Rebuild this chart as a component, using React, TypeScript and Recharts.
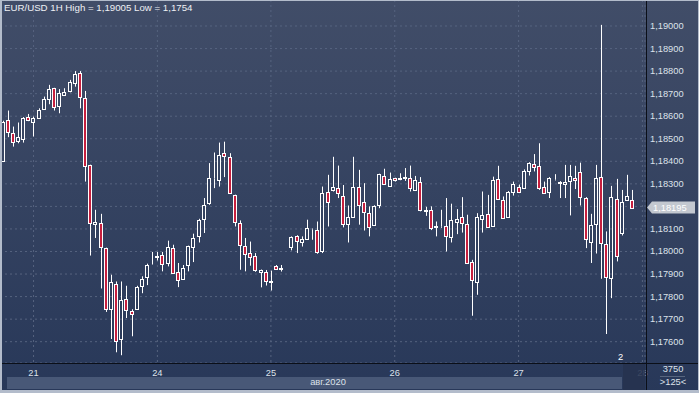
import React from 'react';
import { ComposedChart, Bar, XAxis, YAxis, CartesianGrid, ReferenceLine } from 'recharts';

// EUR/USD 1H candles (null = missing bar)
const opens: (number | null)[] = [
  1.18400, 1.18584, 1.18525, 1.18489, 1.18501, 1.18596, 1.18573, 1.18591, 1.18631, 1.18678,
  1.18724, 1.18647, 1.18693, 1.18713, 1.18746, 1.18790, 1.18680, 1.18383, 1.18122, 1.18126,
  1.18015, 1.17747, 1.17857, 1.17612, 1.17789, 1.17737, 1.17747, 1.17845, 1.17885, 1.17944,
  1.17977, 1.17984, 1.17949, 1.18015, 1.17909, 1.17878, 1.17941, 1.18020, 1.18067, 1.18143,
  1.18217, 1.18325, 1.18318, 1.18436, 1.18418, 1.18250, 1.18126, 1.18024, 1.17993, 1.17981,
  1.17907, 1.17909, 1.17866, 1.17937, 1.17924, null, 1.18020, 1.18067, 1.18042, 1.18056,
  1.18101, 1.18096, 1.18000, 1.18264, 1.18272, 1.18281, 1.18248, 1.18124, 1.18155, 1.18285,
  1.18219, 1.18170, 1.18116, 1.18204, 1.18337, 1.18290, 1.18325, 1.18322, 1.18327, 1.18325,
  1.18273, 1.18310, 1.18181, 1.18184, 1.18110, 1.18113, 1.18111, 1.18064, 1.18130, 1.18152,
  1.18122, 1.17953, 1.17863, 1.18144, 1.18167, 1.18111, 1.18321, 1.18229, 1.18152, 1.18263,
  1.18288, 1.18281, 1.18355, 1.18387, 1.18381, 1.18285, 1.18263, 1.18320, 1.18310, 1.18299,
  1.18313, 1.18328, 1.18351, 1.18237, 1.18040, 1.18122, 1.18330, 1.18033, 1.17882, 1.18233,
  1.18082, 1.18228, 1.18228, null, null,
];
const highs: (number | null)[] = [
  1.18580, 1.18625, 1.18554, 1.18572, 1.18596, 1.18610, 1.18598, 1.18635, 1.18687, 1.18739,
  1.18726, 1.18720, 1.18724, 1.18761, 1.18800, 1.18800, 1.18712, 1.18385, 1.18185, 1.18167,
  1.18017, 1.17897, 1.17867, 1.17867, 1.17848, 1.17744, 1.17848, 1.17890, 1.17946, 1.17998,
  1.17998, 1.17998, 1.18048, 1.18030, 1.17949, 1.17940, 1.18026, 1.18079, 1.18145, 1.18237,
  1.18392, 1.18439, 1.18483, 1.18487, 1.18436, 1.18252, 1.18138, 1.18060, 1.18044, 1.17993,
  1.17920, 1.17918, 1.17915, 1.17940, 1.17940, null, 1.18067, 1.18072, 1.18067, 1.18141,
  1.18102, 1.18133, 1.18288, 1.18340, 1.18420, 1.18381, 1.18295, 1.18204, 1.18420, 1.18362,
  1.18303, 1.18200, 1.18205, 1.18345, 1.18367, 1.18350, 1.18327, 1.18347, 1.18370, 1.18381,
  1.18335, 1.18330, 1.18198, 1.18200, 1.18133, 1.18185, 1.18237, 1.18212, 1.18188, 1.18241,
  1.18163, 1.17963, 1.18170, 1.18266, 1.18251, 1.18332, 1.18380, 1.18244, 1.18268, 1.18310,
  1.18297, 1.18364, 1.18396, 1.18432, 1.18480, 1.18310, 1.18330, 1.18343, 1.18312, 1.18384,
  1.18384, 1.18380, 1.18394, 1.18241, 1.18167, 1.18384, 1.19005, 1.18089, 1.18291, 1.18322,
  1.18273, 1.18340, 1.18273, null, null,
];
const lows: (number | null)[] = [
  1.18398, 1.18507, 1.18465, 1.18480, 1.18483, 1.18578, 1.18510, 1.18589, 1.18628, 1.18653,
  1.18625, 1.18613, 1.18690, 1.18706, 1.18731, 1.18635, 1.18310, 1.17982, 1.18060, 1.17836,
  1.17732, 1.17612, 1.17553, 1.17540, 1.17705, 1.17624, 1.17745, 1.17815, 1.17851, 1.17942,
  1.17960, 1.17912, 1.17934, 1.17902, 1.17842, 1.17876, 1.17912, 1.17953, 1.18040, 1.18082,
  1.18207, 1.18281, 1.18288, 1.18330, 1.18257, 1.18111, 1.17919, 1.17912, 1.17937, 1.17910,
  1.17841, 1.17849, 1.17827, 1.17919, 1.17911, null, 1.18005, 1.17993, 1.18022, 1.18054,
  1.18052, 1.17990, 1.17993, 1.18111, 1.18266, 1.18237, 1.18107, 1.18040, 1.18153, 1.18119,
  1.18093, 1.18067, 1.18114, 1.18192, 1.18298, 1.18288, 1.18310, 1.18316, 1.18313, 1.18266,
  1.18271, 1.18178, 1.18158, 1.18095, 1.18067, 1.18105, 1.18000, 1.18040, 1.18077, 1.18084,
  1.17947, 1.17715, 1.17808, 1.18084, 1.18106, 1.18109, 1.18229, 1.18146, 1.18150, 1.18248,
  1.18259, 1.18279, 1.18337, 1.18355, 1.18273, 1.18257, 1.18237, 1.18315, 1.18237, 1.18237,
  1.18160, 1.18277, 1.18204, 1.18015, 1.17949, 1.17991, 1.17879, 1.17634, 1.17793, 1.17956,
  1.18071, 1.18226, 1.18193, null, null,
];
const closes: (number | null)[] = [
  1.18575, 1.18529, 1.18485, 1.18507, 1.18591, 1.18583, 1.18591, 1.18628, 1.18677, 1.18720,
  1.18643, 1.18702, 1.18708, 1.18752, 1.18787, 1.18684, 1.18377, 1.18126, 1.18132, 1.18022,
  1.17745, 1.17864, 1.17603, 1.17785, 1.17740, 1.17723, 1.17844, 1.17878, 1.17941, 1.17946,
  1.17979, 1.17944, 1.18020, 1.17904, 1.17875, 1.17927, 1.18024, 1.18060, 1.18139, 1.18208,
  1.18328, 1.18327, 1.18429, 1.18424, 1.18259, 1.18130, 1.18027, 1.17987, 1.17975, 1.17916,
  1.17918, 1.17869, 1.17868, 1.17922, 1.17926, null, 1.18064, 1.18046, 1.18056, 1.18104,
  1.18100, 1.17996, 1.18259, 1.18219, 1.18285, 1.18259, 1.18122, 1.18152, 1.18288, 1.18204,
  1.18177, 1.18107, 1.18203, 1.18343, 1.18300, 1.18322, 1.18317, 1.18324, 1.18329, 1.18281,
  1.18316, 1.18185, 1.18183, 1.18102, 1.18112, 1.18115, 1.18067, 1.18141, 1.18144, 1.18126,
  1.17949, 1.17875, 1.18151, 1.18160, 1.18108, 1.18318, 1.18233, 1.18148, 1.18266, 1.18300,
  1.18266, 1.18359, 1.18392, 1.18376, 1.18281, 1.18259, 1.18325, 1.18322, 1.18303, 1.18307,
  1.18337, 1.18319, 1.18241, 1.18055, 1.18119, 1.18325, 1.18037, 1.17887, 1.18241, 1.17981,
  1.18219, 1.18247, 1.18195, null, null,
];

const dayTicks = [6, 30, 52, 76, 100, 124];
const dayLabels = ['21', '24', '25', '26', '27', '28'];
const priceTicks = [
  1.176, 1.177, 1.178, 1.179, 1.18, 1.181, 1.182, 1.183, 1.184, 1.185, 1.186, 1.187, 1.188, 1.189, 1.19,
];
const hiddenTick = 1.182;
const lastPrice = 1.18195;

const data = opens.map((o, i) => ({
  i,
  o,
  h: highs[i],
  l: lows[i],
  c: closes[i],
  range: o === null ? null : [lows[i], highs[i]],
}));

const FONT = '"Liberation Sans", Arial, sans-serif';
const TXT = '#dde2ea';
const fmt = (v: number) => v.toFixed(5).replace('.', ',');

function Candle(props: any) {
  const { x, y, width, height, payload } = props;
  if (!payload || payload.o === null || payload.o === undefined) return null;
  const top = Math.min(y, y + height);
  const span = Math.abs(height);
  const { o, c, h, l } = payload;
  const k = h > l ? span / (h - l) : 0;
  const yo = top + (h - o) * k;
  const yc = top + (h - c) * k;
  const cx = Math.round(x + width / 2) + 0.5;
  const bt = Math.round(Math.min(yo, yc)) + 0.5;
  const bb = Math.max(Math.round(Math.max(yo, yc)) + 0.5, bt);
  const bull = c > o;
  return (
    <g>
      <line x1={cx} x2={cx} y1={top} y2={bt} stroke="#ffffff" strokeWidth={1} />
      <line x1={cx} x2={cx} y1={bb} y2={top + span} stroke="#ffffff" strokeWidth={1} />
      <rect x={cx - 2} y={bt} width={3} height={bb - bt} fill={bull ? 'none' : '#c61f3e'} stroke="#ffffff" strokeWidth={1} />
    </g>
  );
}

function PriceTick(props: any) {
  const { x, y, payload } = props;
  if (payload.value === hiddenTick) return null;
  return (
    <text x={x - 3} y={y} dy={3} fill={TXT} fontSize={9.3} fontFamily={FONT} textAnchor="start">
      {fmt(payload.value)}
    </text>
  );
}

function DayTick(props: any) {
  const { x, y, payload } = props;
  const idx = dayTicks.indexOf(payload.value);
  return (
    <text x={x} y={y} dy={5} fill={idx === 5 ? '#7d879a' : TXT} fontSize={9.3} fontFamily={FONT} textAnchor="middle">
      {dayLabels[idx]}
    </text>
  );
}

function PriceLabel(props: any) {
  const { viewBox } = props;
  if (!viewBox) return null;
  const yy = viewBox.y;
  const x0 = viewBox.x + viewBox.width + 2;
  return (
    <g>
      <polygon
        points={`${x0},${yy} ${x0 + 5},${yy - 6} ${x0 + 48},${yy - 6} ${x0 + 48},${yy + 6} ${x0 + 5},${yy + 6}`}
        fill="#c3c8d0"
      />
      <text x={x0 + 6} y={yy} dy={3} fill="#ffffff" fontSize={9.3} fontFamily={FONT}>
        {fmt(lastPrice)}
      </text>
    </g>
  );
}

export default function App() {
  return (
    <div
      style={{
        position: 'absolute',
        left: 0,
        top: 0,
        width: 699,
        height: 393,
        overflow: 'hidden',
        background: 'linear-gradient(#414d68, #283859)',
        fontFamily: FONT,
      }}
    >
      <div style={{ position: 'absolute', left: 7, top: 377, width: 615, height: 12, background: '#485877' }} />
      <div style={{ position: 'absolute', left: 0, top: 0 }}>
        <ComposedChart width={699} height={393} data={data} margin={{ top: 0, right: 0, bottom: 0, left: 0 }}>
          <CartesianGrid stroke="#56637f" strokeDasharray="2 3" />
          <XAxis
            dataKey="i"
            type="category"
            ticks={dayTicks}
            interval={0}
            height={30}
            axisLine={false}
            tickLine={false}
            tick={<DayTick />}
          />
          <YAxis
            orientation="right"
            width={54}
            domain={[1.175055, 1.191153]}
            allowDataOverflow
            ticks={priceTicks}
            interval={0}
            axisLine={false}
            tickLine={false}
            tick={<PriceTick />}
          />
          <Bar dataKey="range" shape={<Candle />} isAnimationActive={false} />
          <ReferenceLine y={lastPrice} stroke="none" label={<PriceLabel />} />
        </ComposedChart>
      </div>
      <div style={{ position: 'absolute', left: 4, top: 2, fontSize: 9.7, color: '#eef0f4' }}>
        EUR/USD 1H High = 1,19005 Low = 1,1754
      </div>
      <div style={{ position: 'absolute', left: 0, top: 377, width: 656, textAlign: 'center', fontSize: 9.3, color: TXT }}>
        авг.2020
      </div>
      <div style={{ position: 'absolute', left: 0, top: 363, width: 699, height: 1, background: '#0b0f18' }} />
      <div style={{ position: 'absolute', left: 646, top: 0, width: 1, height: 393, background: '#0b0f18' }} />
      <div style={{ position: 'absolute', left: 623, top: 364, width: 22, height: 26, background: 'rgba(38,50,78,0.75)' }} />
      <div style={{ position: 'absolute', left: 618, top: 352, fontSize: 9.3, color: '#ffffff' }}>2</div>
      <div style={{ position: 'absolute', left: 647, top: 364, width: 52, textAlign: 'center', fontSize: 9.3, color: TXT }}>3750</div>
      <div style={{ position: 'absolute', left: 660, top: 376, width: 25, height: 1, background: '#58667f' }} />
      <div style={{ position: 'absolute', left: 647, top: 377, width: 52, textAlign: 'center', fontSize: 9.3, color: TXT }}>&gt;125&lt;</div>
      <div
        style={{
          position: 'absolute',
          left: 0,
          top: 0,
          width: 699,
          height: 393,
          boxSizing: 'border-box',
          borderLeft: '2px solid #b3bccb',
          borderTop: '1px solid #b3bccb',
          borderRight: '1px solid #b3bccb',
          borderBottom: '3px solid #b3bccb',
          pointerEvents: 'none',
        }}
      />
    </div>
  );
}
